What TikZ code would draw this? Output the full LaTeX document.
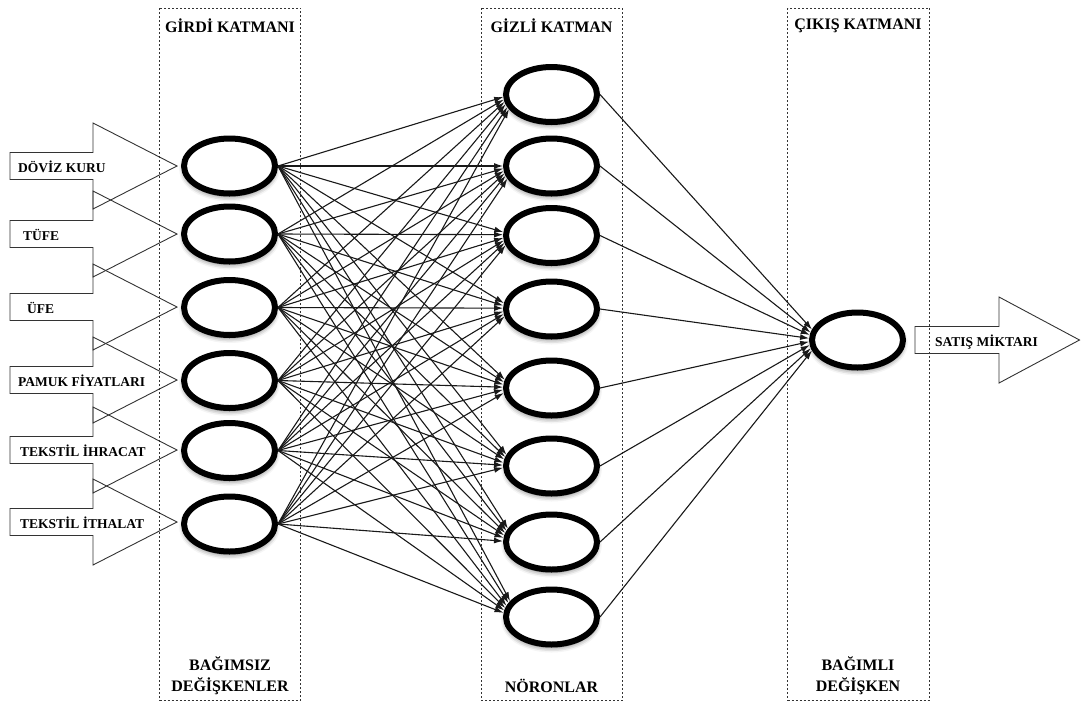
\documentclass[tikz,border=0pt]{standalone}
\usepackage{fontspec}
\setmainfont{Liberation Serif}[BoldFont={Liberation Serif Bold}]
\usetikzlibrary{shapes.geometric,arrows.meta,shadows.blur}
\begin{document}
\begin{tikzpicture}[x=1pt,y=-1pt,
  neuron/.style={ellipse,draw=black,line width=6pt,fill=white,
    minimum width=91pt,minimum height=55pt,inner sep=0pt,
    blur shadow={shadow xshift=0pt,shadow yshift=-3pt,shadow blur radius=5pt,shadow opacity=60}},
  layerbox/.style={draw=black!80,line width=0.9pt,dash pattern=on 2pt off 2pt},
  title/.style={font=\fontsize{16}{21}\selectfont\bfseries,align=center,inner sep=0pt},
  inlabel/.style={font=\fontsize{13.5}{15}\selectfont\bfseries,anchor=base west,inner sep=0pt},
  blockarrow/.style={draw=black!80,line width=0.9pt},
  link/.style={draw=black!90,line width=1.1pt,-{Latex[length=9pt,width=6pt]}}
]
\useasboundingbox (0,0) rectangle (1081,705);

% dotted frames of the three layers
\draw[layerbox] (159.5,8) rectangle (300.5,700);
\draw[layerbox] (481,8) rectangle (622.5,700);
\draw[layerbox] (787.5,8) rectangle (929.5,700);

% layer titles
\node[title] (tin)  at (230,26)   {GİRDİ KATMANI};
\node[title] (thid) at (551.5,26) {GİZLİ KATMAN};
\node[title] (tout) at (858,26)   {ÇIKIŞ KATMANI};
\node[title] (bin)  at (230,675.5) {BAĞIMSIZ\\DEĞİŞKENLER};
\node[title] (bhid) at (551.5,686) {NÖRONLAR};
\node[title] (bout) at (858,675.5) {BAĞIMLI\\DEĞİŞKEN};

% neurons
\foreach \i/\y in {1/166,2/234,3/307.5,4/380.5,5/450.5,6/524}
  \node[neuron] (in\i) at (229.5,\y) {};
\foreach \j/\y in {1/94.5,2/166,3/235.5,4/309,5/388,6/466,7/542,8/617}
  \node[neuron] (hid\j) at (551.5,\y) {};
\node[neuron] (out) at (857.5,340) {};

% input block arrows
\foreach \i/\y/\lx/\txt in {1/166/18/DÖVİZ KURU,2/234/23/TÜFE,3/307/27/ÜFE,
    4/380/18/PAMUK FİYATLARI,5/450/20/TEKSTİL İHRACAT,6/522/20/TEKSTİL İTHALAT}{
  \coordinate (tip\i) at (177,\y);
  \draw[blockarrow] (tip\i) -- ++(-84,-43) -- ++(0,29.5) -- ++(-83,0) -- ++(0,27)
    -- ++(83,0) -- ++(0,29.5) -- cycle;
  \node[inlabel] (lab\i) at (\lx,\y+6.5) {\txt};
}

% output block arrow
\coordinate (otip) at (1079.5,340);
\draw[blockarrow] (otip) -- ++(-80.5,-43) -- ++(0,29.5) -- ++(-84,0) -- ++(0,27)
  -- ++(84,0) -- ++(0,29.5) -- cycle;
\node[inlabel] (olab) at (935,346.5) {SATIŞ MİKTARI};

% weighted connections: heads gather near the west side of each target
\foreach \i/\yi in {1/166,2/234,3/307.5,4/380.5,5/450.5,6/524}
  \foreach \j/\yj in {1/94.5,2/166,3/235.5,4/309,5/388,6/466,7/542,8/617}{
    \pgfmathsetmacro\ang{180+0.045*(\yi-\yj)}
    \draw[link] (in\i.east) -- (hid\j.\ang);
  }
\foreach \j/\yj in {1/94.5,2/166,3/235.5,4/309,5/388,6/466,7/542,8/617}{
  \pgfmathsetmacro\ang{180+0.05*(\yj-340)}
  \draw[link] (hid\j.east) -- (out.\ang);
}
\end{tikzpicture}
\end{document}
